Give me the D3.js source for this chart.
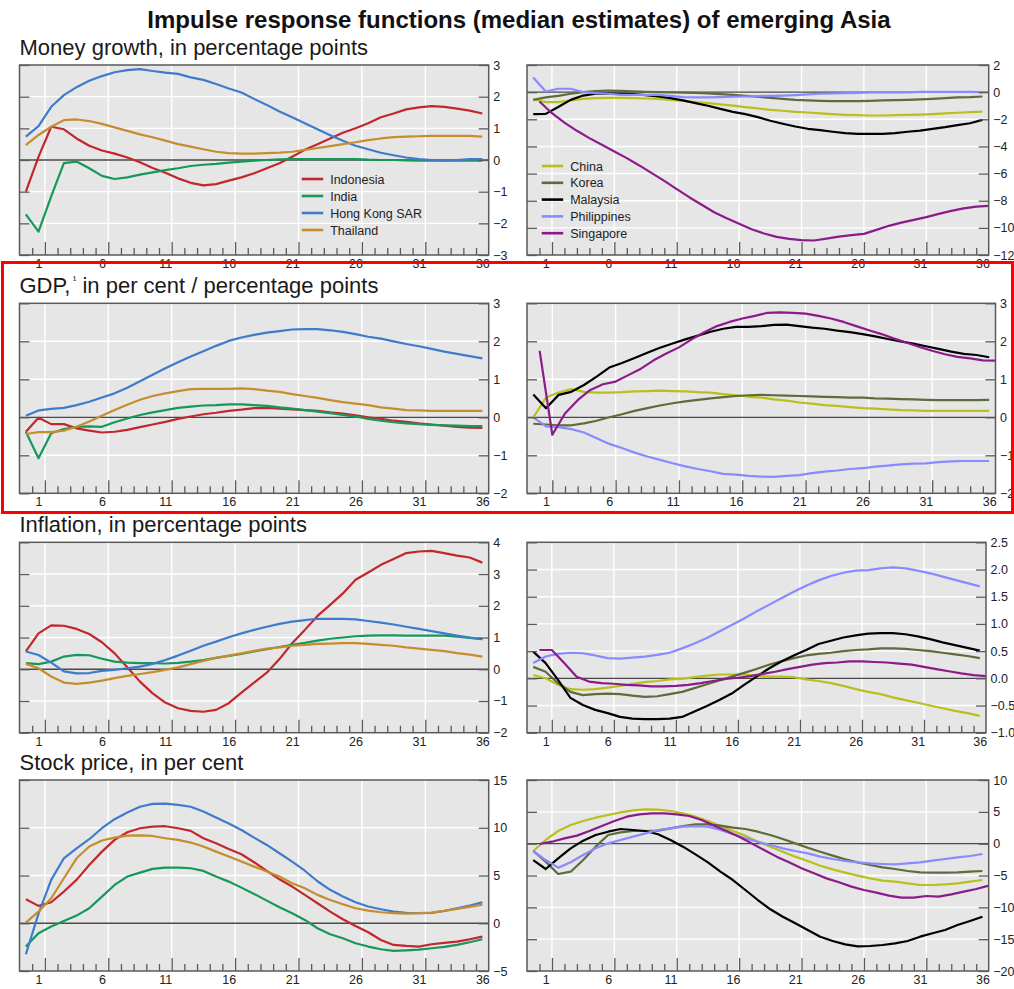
<!DOCTYPE html>
<html><head><meta charset="utf-8">
<script src="https://cdn.jsdelivr.net/npm/d3@7"></script>
<style>
body{margin:0;background:#fff;}
svg{display:block;font-family:"Liberation Sans",Arial,Helvetica,sans-serif;}
</style>
</head><body>
<svg id="chart" width="1014" height="989"></svg>
<script>
// ---------------- DATA ----------------
const periods = d3.range(0, 37);                 // horizon 0..36
const tickLabels = [1, 6, 11, 16, 21, 26, 31, 36];
const leftCountries = ["Indonesia", "India", "Hong Kong SAR", "Thailand"];
const rightCountries = ["China", "Korea", "Malaysia", "Philippines", "Singapore"];
const singaporeShift = 0.5;                      // Singapore responses are plotted half a period later

const rowTitles = ["Money growth, in percentage points", "GDP,", "Inflation, in percentage points", "Stock price, in per cent"];

// Money growth
const moneyIndonesia = [-1.0,0.1,1.05,0.97,0.68,0.45,0.3,0.2,0.08,-0.07,-0.25,-0.4,-0.58,-0.72,-0.8,-0.76,-0.65,-0.55,-0.42,-0.26,-0.1,0.1,0.32,0.5,0.68,0.86,1.0,1.16,1.35,1.47,1.6,1.66,1.7,1.68,1.62,1.56,1.47];
const moneyIndia = [-1.72,-2.26,-1.15,-0.1,-0.05,-0.26,-0.5,-0.6,-0.55,-0.46,-0.39,-0.32,-0.26,-0.19,-0.15,-0.12,-0.08,-0.05,-0.02,0,0.02,0.03,0.03,0.03,0.03,0.03,0.03,0.01,0,0,-0.01,-0.02,-0.02,-0.02,-0.02,-0.02,-0.02];
const moneyHongKong = [0.74,1.07,1.68,2.05,2.3,2.5,2.65,2.77,2.84,2.87,2.81,2.76,2.72,2.61,2.53,2.4,2.26,2.13,1.93,1.74,1.53,1.35,1.16,0.97,0.78,0.61,0.45,0.34,0.23,0.15,0.08,0.03,0,-0.01,0,0.03,0.03];
const moneyThailand = [0.47,0.79,1.05,1.26,1.28,1.23,1.14,1.03,0.92,0.81,0.72,0.61,0.5,0.42,0.34,0.26,0.22,0.2,0.2,0.22,0.23,0.26,0.32,0.38,0.44,0.5,0.56,0.63,0.68,0.72,0.74,0.75,0.76,0.76,0.76,0.76,0.74];
const moneyChina = [-0.52,-0.74,-0.74,-0.6,-0.5,-0.44,-0.42,-0.42,-0.44,-0.47,-0.5,-0.57,-0.64,-0.74,-0.81,-0.9,-1.0,-1.1,-1.2,-1.3,-1.37,-1.45,-1.5,-1.57,-1.62,-1.67,-1.7,-1.72,-1.72,-1.7,-1.67,-1.65,-1.62,-1.57,-1.52,-1.47,-1.43];
const moneyKorea = [-0.57,-0.39,-0.27,-0.12,0,0.07,0.12,0.1,0.05,0.02,0,-0.02,-0.03,-0.06,-0.1,-0.15,-0.2,-0.27,-0.34,-0.42,-0.49,-0.57,-0.61,-0.64,-0.66,-0.66,-0.66,-0.64,-0.61,-0.59,-0.57,-0.54,-0.49,-0.44,-0.39,-0.37,-0.32];
const moneyMalaysia = [-1.62,-1.6,-1.1,-0.57,-0.25,-0.12,-0.1,-0.12,-0.15,-0.22,-0.32,-0.44,-0.61,-0.81,-1.0,-1.23,-1.45,-1.62,-1.84,-2.11,-2.33,-2.53,-2.7,-2.8,-2.92,-3.02,-3.07,-3.07,-3.07,-3.02,-2.92,-2.83,-2.7,-2.58,-2.43,-2.29,-2.04];
const moneyPhilippines = [1.08,0.05,0.25,0.25,0,-0.07,-0.12,-0.2,-0.2,-0.2,-0.2,-0.27,-0.37,-0.39,-0.39,-0.37,-0.34,-0.32,-0.29,-0.27,-0.25,-0.22,-0.17,-0.12,-0.1,-0.07,-0.05,-0.02,-0.02,-0.02,-0.02,0.02,0.02,0.02,0.02,0.02,0];
const moneySingapore = [-0.69,-1.55,-2.24,-2.85,-3.39,-3.88,-4.37,-4.86,-5.4,-5.97,-6.54,-7.15,-7.74,-8.3,-8.85,-9.29,-9.7,-10.1,-10.42,-10.66,-10.81,-10.9,-10.93,-10.79,-10.64,-10.54,-10.44,-10.15,-9.85,-9.61,-9.41,-9.21,-8.97,-8.75,-8.57,-8.43,-8.38];

// GDP
const gdpIndonesia = [-0.38,-0.01,-0.18,-0.18,-0.29,-0.35,-0.4,-0.38,-0.33,-0.26,-0.19,-0.12,-0.04,0.02,0.08,0.12,0.17,0.2,0.24,0.25,0.23,0.21,0.19,0.17,0.13,0.1,0.05,0,-0.04,-0.09,-0.12,-0.16,-0.19,-0.22,-0.25,-0.27,-0.28];
const gdpIndia = [-0.38,-1.08,-0.42,-0.31,-0.25,-0.24,-0.25,-0.13,-0.03,0.06,0.13,0.19,0.25,0.28,0.31,0.32,0.34,0.34,0.32,0.3,0.26,0.23,0.19,0.15,0.11,0.06,0.02,-0.04,-0.09,-0.13,-0.16,-0.18,-0.2,-0.21,-0.22,-0.23,-0.23];
const gdpHongKong = [0.04,0.18,0.22,0.25,0.32,0.41,0.52,0.63,0.78,0.95,1.12,1.29,1.45,1.6,1.74,1.88,2.01,2.1,2.17,2.23,2.27,2.31,2.32,2.32,2.29,2.25,2.19,2.12,2.07,2.0,1.93,1.87,1.8,1.73,1.67,1.61,1.55];
const gdpThailand = [-0.44,-0.39,-0.39,-0.35,-0.25,-0.11,0.04,0.19,0.33,0.46,0.56,0.63,0.69,0.74,0.75,0.75,0.75,0.76,0.74,0.7,0.67,0.61,0.56,0.51,0.45,0.4,0.36,0.32,0.26,0.23,0.19,0.18,0.17,0.17,0.17,0.17,0.17];
const gdpChina = [0,0.52,0.65,0.74,0.67,0.65,0.65,0.66,0.68,0.69,0.7,0.69,0.68,0.66,0.65,0.61,0.58,0.54,0.52,0.47,0.44,0.39,0.36,0.32,0.3,0.27,0.24,0.23,0.21,0.19,0.18,0.17,0.17,0.17,0.17,0.17,0.17];
const gdpKorea = [-0.17,-0.19,-0.21,-0.21,-0.16,-0.09,0,0.08,0.17,0.24,0.31,0.37,0.42,0.46,0.5,0.53,0.56,0.58,0.59,0.58,0.57,0.56,0.55,0.54,0.53,0.52,0.52,0.5,0.49,0.48,0.47,0.46,0.45,0.45,0.45,0.45,0.46];
const gdpMalaysia = [0.6,0.24,0.59,0.67,0.85,1.07,1.31,1.43,1.56,1.7,1.83,1.94,2.05,2.15,2.25,2.33,2.38,2.38,2.4,2.43,2.44,2.4,2.36,2.33,2.28,2.24,2.19,2.13,2.06,2.0,1.94,1.87,1.8,1.73,1.67,1.64,1.58];
const gdpPhilippines = [0,-0.24,-0.26,-0.31,-0.4,-0.55,-0.7,-0.81,-0.93,-1.03,-1.12,-1.21,-1.29,-1.36,-1.42,-1.49,-1.51,-1.54,-1.56,-1.57,-1.54,-1.52,-1.47,-1.43,-1.4,-1.36,-1.34,-1.3,-1.27,-1.24,-1.22,-1.21,-1.18,-1.16,-1.15,-1.15,-1.15];
const gdpSingapore = [1.75,-0.46,0.1,0.45,0.72,0.87,0.94,1.11,1.28,1.5,1.68,1.84,2.05,2.24,2.4,2.51,2.6,2.67,2.75,2.76,2.75,2.73,2.67,2.6,2.51,2.4,2.29,2.19,2.07,1.96,1.85,1.75,1.66,1.59,1.55,1.5,1.49];

// Inflation
const inflIndonesia = [0.56,1.13,1.38,1.37,1.27,1.11,0.85,0.5,0.06,-0.39,-0.76,-1.05,-1.23,-1.31,-1.34,-1.28,-1.07,-0.74,-0.42,-0.11,0.32,0.82,1.24,1.68,2.03,2.39,2.82,3.05,3.29,3.47,3.66,3.71,3.73,3.66,3.58,3.52,3.36];
const inflIndia = [0.19,0.16,0.24,0.4,0.45,0.44,0.33,0.24,0.21,0.19,0.19,0.18,0.2,0.24,0.29,0.36,0.42,0.48,0.56,0.63,0.7,0.77,0.83,0.9,0.96,1.0,1.04,1.06,1.07,1.07,1.06,1.06,1.06,1.06,1.03,0.99,0.95];
const inflHongKong = [0.56,0.45,0.21,-0.07,-0.13,-0.12,-0.05,-0.02,0.03,0.08,0.17,0.29,0.43,0.58,0.74,0.87,1.01,1.13,1.24,1.34,1.43,1.5,1.55,1.59,1.59,1.59,1.57,1.52,1.47,1.41,1.34,1.27,1.2,1.13,1.06,1.0,0.95];
const inflThailand = [0.17,0.03,-0.23,-0.42,-0.46,-0.42,-0.36,-0.28,-0.21,-0.15,-0.09,-0.02,0.06,0.16,0.26,0.36,0.43,0.5,0.58,0.65,0.69,0.74,0.77,0.8,0.81,0.82,0.82,0.8,0.77,0.74,0.69,0.65,0.61,0.57,0.51,0.46,0.4];
const inflChina = [0.06,0,-0.12,-0.2,-0.21,-0.2,-0.17,-0.14,-0.1,-0.07,-0.05,-0.02,-0.01,0.02,0.05,0.07,0.07,0.07,0.05,0.03,0.03,0.02,-0.02,-0.05,-0.09,-0.14,-0.2,-0.25,-0.29,-0.35,-0.4,-0.45,-0.5,-0.55,-0.6,-0.64,-0.69];
const inflKorea = [0.21,0.12,-0.09,-0.25,-0.31,-0.29,-0.28,-0.29,-0.32,-0.34,-0.33,-0.29,-0.25,-0.18,-0.11,-0.04,0.03,0.1,0.17,0.25,0.31,0.37,0.42,0.45,0.47,0.5,0.52,0.53,0.55,0.55,0.54,0.52,0.5,0.47,0.44,0.41,0.37];
const inflMalaysia = [0.49,0.28,-0.03,-0.36,-0.49,-0.58,-0.64,-0.71,-0.74,-0.75,-0.75,-0.74,-0.71,-0.61,-0.51,-0.4,-0.28,-0.12,0.03,0.18,0.31,0.42,0.52,0.63,0.69,0.75,0.79,0.82,0.83,0.83,0.81,0.77,0.72,0.66,0.61,0.56,0.51];
const inflPhilippines = [0.28,0.4,0.45,0.47,0.46,0.42,0.37,0.36,0.38,0.4,0.43,0.47,0.55,0.64,0.74,0.86,0.98,1.1,1.23,1.35,1.47,1.59,1.7,1.8,1.88,1.94,1.98,1.99,2.02,2.04,2.02,1.98,1.93,1.87,1.81,1.75,1.69];
const inflSingapore = [0.52,0.52,0.28,0.03,-0.06,-0.09,-0.1,-0.12,-0.13,-0.15,-0.15,-0.14,-0.12,-0.09,-0.05,-0.01,0.01,0.04,0.08,0.12,0.17,0.21,0.25,0.28,0.29,0.31,0.31,0.3,0.29,0.27,0.25,0.21,0.17,0.13,0.09,0.06,0.04];

// Stock price
const stockIndonesia = [2.51,1.82,2.2,3.32,4.54,6.1,7.5,8.73,9.53,9.95,10.12,10.16,9.95,9.67,8.9,8.38,7.78,7.23,6.39,5.48,4.6,3.84,2.97,2.09,1.22,0.42,-0.28,-0.94,-1.75,-2.27,-2.37,-2.44,-2.2,-2.06,-1.92,-1.68,-1.4];
const stockIndia = [-2.44,-1.05,-0.35,0.24,0.8,1.57,2.79,4.01,4.89,5.3,5.69,5.83,5.83,5.76,5.48,4.89,4.36,3.73,3.07,2.37,1.68,1.05,0.35,-0.52,-1.15,-1.57,-2.09,-2.44,-2.72,-2.9,-2.83,-2.76,-2.62,-2.48,-2.27,-1.99,-1.68];
const stockHongKong = [-3.25,1.0,4.54,6.8,7.85,8.8,9.95,10.9,11.6,12.2,12.5,12.53,12.4,12.2,11.7,11.07,10.44,9.77,8.97,8.2,7.33,6.46,5.5,4.4,3.5,2.8,2.2,1.75,1.47,1.22,1.08,1.05,1.08,1.29,1.57,1.85,2.2];
const stockThailand = [0.07,1.22,2.62,4.71,6.8,8.03,8.66,8.97,9.18,9.21,9.14,8.9,8.73,8.45,8.03,7.5,6.98,6.46,5.93,5.41,4.89,4.19,3.66,2.97,2.44,1.99,1.57,1.33,1.15,1.05,1.01,1.05,1.12,1.29,1.5,1.71,1.95];
const stockChina = [-1.15,0.58,1.99,2.93,3.56,4.08,4.5,4.92,5.24,5.39,5.34,5.13,4.76,4.24,3.56,2.77,1.99,1.26,0.31,-0.47,-1.26,-2.04,-2.72,-3.46,-4.03,-4.55,-5.03,-5.45,-5.81,-5.97,-6.23,-6.49,-6.49,-6.39,-6.23,-5.97,-5.71];
const stockKorea = [-1.15,-2.83,-4.76,-4.4,-2.57,-0.47,1.36,1.78,1.99,1.99,2.04,2.41,2.77,3.04,3.04,2.83,2.51,2.3,1.88,1.36,0.73,0.05,-0.63,-1.26,-1.88,-2.46,-2.93,-3.35,-3.72,-3.98,-4.29,-4.5,-4.55,-4.55,-4.5,-4.4,-4.29];
const stockMalaysia = [-2.57,-3.98,-2.3,-0.73,0.47,1.36,1.88,2.3,2.15,1.99,1.47,0.58,-0.47,-1.68,-2.93,-4.4,-5.71,-7.28,-8.85,-10.31,-11.47,-12.51,-13.56,-14.61,-15.29,-15.81,-16.13,-16.07,-15.92,-15.65,-15.29,-14.61,-14.08,-13.56,-12.77,-12.15,-11.47];
const stockPhilippines = [-1.15,-2.57,-3.77,-2.93,-1.78,-0.73,0.05,0.58,1.1,1.62,2.15,2.41,2.67,2.77,2.67,2.15,1.47,0.84,0.31,-0.21,-0.73,-1.15,-1.52,-2.04,-2.41,-2.72,-2.93,-3.09,-3.19,-3.25,-3.09,-2.93,-2.67,-2.41,-2.15,-1.94,-1.62];
const stockSingapore = [-0.05,0.31,0.84,1.26,1.99,2.77,3.56,4.24,4.61,4.76,4.76,4.61,4.35,3.72,2.83,1.99,1.1,0.05,-0.99,-2.04,-2.93,-3.87,-4.66,-5.45,-6.07,-6.75,-7.28,-7.7,-8.17,-8.48,-8.48,-8.22,-8.32,-7.96,-7.54,-7.12,-6.6];

// y-axis settings per panel (domain, step)
const yMoneyLeft = [-3, 3, 1],   yMoneyRight = [-12, 2, 2];
const yGdpLeft = [-2, 3, 1],     yGdpRight = [-2, 3, 1];
const yInflLeft = [-2, 4, 1],    yInflRight = [-1, 2.5, 0.5];
const yStockLeft = [-5, 15, 5],  yStockRight = [-20, 10, 5];

// ---------------- STYLE / LAYOUT ----------------
const colors = {
  "Indonesia": "#c1272d", "India": "#15985a", "Hong Kong SAR": "#3f7bcb", "Thailand": "#c58d2e",
  "China": "#b9bf1d", "Korea": "#5f6b3b", "Malaysia": "#000000", "Philippines": "#8a8aff", "Singapore": "#8c1a8a"
};
const BG = "#e6e6e6", FRAME = "#5a5a5a";
const rowTop = [65, 303.3, 542.3, 780];
const rowH = [190, 190, 190.4, 191];
const colX = [[19.5, 488.7], [527, 988.7]];

const svg = d3.select("#chart");

svg.append("text")
  .attr("x", 519).attr("y", 28)
  .attr("text-anchor", "middle")
  .attr("font-size", 24).attr("font-weight", "bold").attr("fill", "#111")
  .text("Impulse response functions (median estimates) of emerging Asia");

// row titles
rowTitles.forEach((t, r) => {
  const tx = svg.append("text").attr("x", 19.5).attr("y", rowTop[r] - 10.5)
    .attr("font-size", 22).attr("fill", "#1a1a1a");
  if (r === 1) {
    tx.append("tspan").text("GDP,");
    tx.append("tspan").attr("font-size", 11).attr("dy", -9).text("\u2009\u00B9");
    tx.append("tspan").attr("dy", 9).text(" in per cent / percentage points");
  } else tx.text(t);
});

const leftData = [
  [moneyIndonesia, moneyIndia, moneyHongKong, moneyThailand],
  [gdpIndonesia, gdpIndia, gdpHongKong, gdpThailand],
  [inflIndonesia, inflIndia, inflHongKong, inflThailand],
  [stockIndonesia, stockIndia, stockHongKong, stockThailand]
];
const rightData = [
  [moneyChina, moneyKorea, moneyMalaysia, moneyPhilippines, moneySingapore],
  [gdpChina, gdpKorea, gdpMalaysia, gdpPhilippines, gdpSingapore],
  [inflChina, inflKorea, inflMalaysia, inflPhilippines, inflSingapore],
  [stockChina, stockKorea, stockMalaysia, stockPhilippines, stockSingapore]
];
const yLeft = [yMoneyLeft, yGdpLeft, yInflLeft, yStockLeft];
const yRight = [yMoneyRight, yGdpRight, yInflRight, yStockRight];

const panels = [];
for (let r = 0; r < 4; r++) {
  panels.push({ r, c: 0, x0: colX[0][0], x1: colX[0][1], y: yLeft[r], fmt: d3.format("d"),
    series: leftCountries.map((n, i) => ({ name: n, values: leftData[r][i], shift: 0 })),
    legend: r === 0 ? { x: 301.7, y: 179, dy: 17 } : null });
  let x1 = colX[1][1];
  if (r === 1) x1 = 995.5;
  if (r === 2) x1 = 986;
  panels.push({ r, c: 1, x0: colX[1][0], x1, y: yRight[r], fmt: r === 2 ? d3.format(".1f") : d3.format("d"),
    series: rightCountries.map((n, i) => ({ name: n, values: rightData[r][i], shift: n === "Singapore" ? singaporeShift : 0 })),
    legend: r === 0 ? { x: 541.7, y: 166, dy: 16.8 } : null });
}

panels.forEach((p, pi) => {
  const top = rowTop[p.r], h = rowH[p.r], bottom = top + h;
  const x = d3.scaleLinear().domain([-0.5, 36.5]).range([p.x0, p.x1]);
  const y = d3.scaleLinear().domain([p.y[0], p.y[1]]).range([bottom, top]);
  const yTicks = d3.range(p.y[0], p.y[1] + p.y[2] / 2, p.y[2]);
  const bounds = d3.range(0, 36).map(k => k + 0.5);
  const majors = bounds.filter(b => Math.round(b - 1.5) % 5 === 0);
  const minors = bounds.filter(b => Math.round(b - 1.5) % 5 !== 0);
  const g = svg.append("g");

  g.append("rect").attr("x", p.x0).attr("y", top).attr("width", p.x1 - p.x0).attr("height", h).attr("fill", BG);

  // grid
  g.selectAll(null).data(yTicks.filter(v => v > p.y[0] && v < p.y[1] && v !== 0)).join("line")
    .attr("x1", p.x0).attr("x2", p.x1).attr("y1", d => y(d)).attr("y2", d => y(d))
    .attr("stroke", "#fff").attr("stroke-width", 1.4);
  g.selectAll(null).data(majors).join("line")
    .attr("x1", d => x(d)).attr("x2", d => x(d)).attr("y1", top).attr("y2", bottom)
    .attr("stroke", "#fff").attr("stroke-width", 1.4);

  // zero line
  g.append("line").attr("x1", p.x0).attr("x2", p.x1).attr("y1", y(0)).attr("y2", y(0))
    .attr("stroke", "#4a4a4a").attr("stroke-width", 1.3);

  // lines
  const clipId = "clip" + pi;
  svg.append("clipPath").attr("id", clipId).append("rect")
    .attr("x", p.x0).attr("y", top).attr("width", p.x1 - p.x0).attr("height", h);
  const line = d3.line().x(d => x(d[0])).y(d => y(d[1]));
  g.append("g").attr("clip-path", `url(#${clipId})`)
    .selectAll("path").data(p.series).join("path")
    .attr("d", s => line(periods.map((t, i) => [t + s.shift, s.values[i]])))
    .attr("fill", "none").attr("stroke", s => colors[s.name])
    .attr("stroke-width", 2.2).attr("stroke-linejoin", "round");

  // frame
  g.append("rect").attr("x", p.x0).attr("y", top).attr("width", p.x1 - p.x0).attr("height", h)
    .attr("fill", "none").attr("stroke", FRAME).attr("stroke-width", 1.5);

  const styleAxis = sel => {
    sel.select(".domain").remove();
    sel.selectAll("line").attr("stroke", FRAME).attr("stroke-width", 1.3);
    sel.selectAll("text").attr("fill", "#222").attr("font-size", 12.5)
      .attr("font-family", '"Liberation Sans",Arial,sans-serif');
  };
  // y ticks inside on both sides; labels on right
  g.append("g").attr("transform", `translate(${p.x1},0)`)
    .call(d3.axisRight(y).tickValues(yTicks).tickSize(-10).tickPadding(4.5).tickFormat(p.fmt))
    .call(styleAxis);
  g.append("g").attr("transform", `translate(${p.x0},0)`)
    .call(d3.axisLeft(y).tickValues(yTicks).tickSize(-10).tickFormat(""))
    .call(styleAxis);
  // x ticks (minor / major) pointing up from bottom
  g.append("g").attr("transform", `translate(0,${bottom})`)
    .call(d3.axisBottom(x).tickValues(minors).tickSize(-7).tickFormat(""))
    .call(styleAxis);
  g.append("g").attr("transform", `translate(0,${bottom})`)
    .call(d3.axisBottom(x).tickValues(majors).tickSize(-13).tickFormat(""))
    .call(styleAxis);
  g.append("g").attr("transform", `translate(0,${bottom})`)
    .call(d3.axisBottom(x).tickValues(tickLabels).tickSize(0).tickPadding(4).tickFormat(d3.format("d")))
    .call(styleAxis);

  // legend
  if (p.legend) {
    const lg = g.append("g");
    p.series.forEach((s, i) => {
      const ly = p.legend.y + i * p.legend.dy;
      lg.append("line").attr("x1", p.legend.x).attr("x2", p.legend.x + 21.5)
        .attr("y1", ly).attr("y2", ly).attr("stroke", colors[s.name]).attr("stroke-width", 2.6);
      lg.append("text").attr("x", p.legend.x + 28.5).attr("y", ly).attr("dy", "0.36em")
        .attr("font-size", 12.5).attr("fill", "#222").text(s.name);
    });
  }
});

// red highlight box around GDP row
svg.append("rect").attr("x", 2.5).attr("y", 262.5).attr("width", 1010).attr("height", 250)
  .attr("fill", "none").attr("stroke", "#ff0000").attr("stroke-width", 3);
</script>
</body></html>
